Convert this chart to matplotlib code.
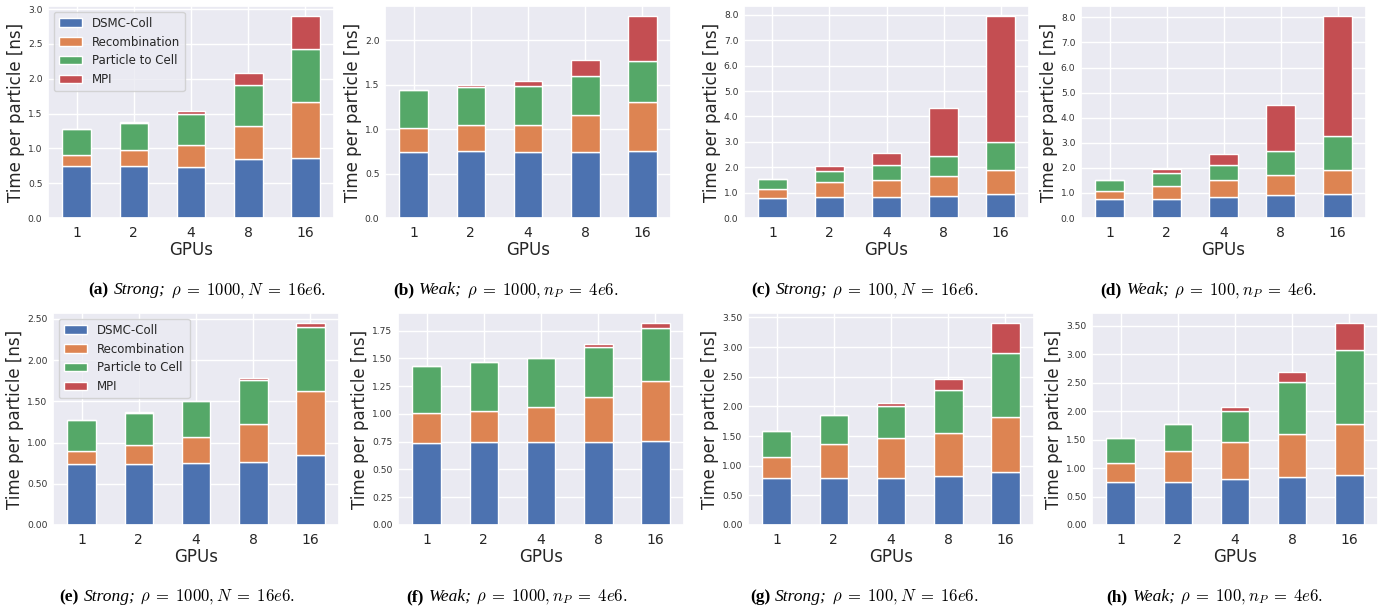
import matplotlib
matplotlib.use("Agg")
import matplotlib.pyplot as plt
import seaborn as sns
from matplotlib.ticker import MultipleLocator, FormatStrFormatter

sns.set_theme(style="darkgrid")
plt.rcParams["mathtext.fontset"] = "cm"
plt.rcParams["xtick.major.size"] = 0
plt.rcParams["ytick.major.size"] = 0

gpus = ["1", "2", "4", "8", "16"]
series_names = ["DSMC-Coll", "Recombination", "Particle to Cell", "MPI"]
colors = ["#4C72B0", "#DD8452", "#55A868", "#C44E52"]

# (a) Strong; rho=1000, N=16e6
dsmc_a = [0.74, 0.74, 0.73, 0.845, 0.86]
recomb_a = [0.17, 0.23, 0.32, 0.475, 0.80]
p2c_a = [0.37, 0.39, 0.44, 0.59, 0.77]
mpi_a = [0.0, 0.02, 0.05, 0.17, 0.47]
# (b) Weak; rho=1000, nP=4e6
dsmc_b = [0.74, 0.75, 0.74, 0.74, 0.75]
recomb_b = [0.27, 0.29, 0.31, 0.415, 0.55]
p2c_b = [0.43, 0.43, 0.435, 0.445, 0.465]
mpi_b = [0.0, 0.025, 0.055, 0.18, 0.505]
# (c) Strong; rho=100, N=16e6
dsmc_c = [0.77, 0.81, 0.81, 0.88, 0.94]
recomb_c = [0.36, 0.59, 0.68, 0.78, 0.96]
p2c_c = [0.40, 0.46, 0.60, 0.79, 1.10]
mpi_c = [0.0, 0.19, 0.45, 1.87, 4.95]
# (d) Weak; rho=100, nP=4e6
dsmc_d = [0.74, 0.76, 0.84, 0.93, 0.95]
recomb_d = [0.33, 0.53, 0.66, 0.78, 0.95]
p2c_d = [0.46, 0.49, 0.60, 0.98, 1.35]
mpi_d = [0.0, 0.17, 0.46, 1.83, 4.80]
# (e) Strong; rho=1000, N=16e6
dsmc_e = [0.74, 0.74, 0.75, 0.76, 0.845]
recomb_e = [0.16, 0.225, 0.315, 0.46, 0.78]
p2c_e = [0.375, 0.39, 0.44, 0.535, 0.775]
mpi_e = [0.0, 0.012, 0.0, 0.028, 0.048]
# (f) Weak; rho=1000, nP=4e6
dsmc_f = [0.74, 0.745, 0.75, 0.75, 0.76]
recomb_f = [0.265, 0.285, 0.315, 0.405, 0.54]
p2c_f = [0.43, 0.435, 0.44, 0.445, 0.47]
mpi_f = [0.0, 0.0, 0.0, 0.03, 0.048]
# (g) Strong; rho=100, N=16e6
dsmc_g = [0.79, 0.79, 0.80, 0.82, 0.90]
recomb_g = [0.35, 0.58, 0.66, 0.735, 0.925]
p2c_g = [0.44, 0.485, 0.55, 0.715, 1.08]
mpi_g = [0.01, 0.0, 0.04, 0.185, 0.50]
# (h) Weak; rho=100, nP=4e6
dsmc_h = [0.75, 0.76, 0.80, 0.84, 0.88]
recomb_h = [0.335, 0.54, 0.66, 0.76, 0.90]
p2c_h = [0.445, 0.47, 0.545, 0.91, 1.285]
mpi_h = [0.0, 0.0, 0.065, 0.185, 0.48]

cap_tags = ["(a)", "(b)", "(c)", "(d)", "(e)", "(f)", "(g)", "(h)"]
cap_kinds = ["Strong;", "Weak;", "Strong;", "Weak;",
             "Strong;", "Weak;", "Strong;", "Weak;"]
cap_maths = [
    r"$\rho\;=\;1000,N\;=\;16e6.$",
    r"$\rho\;=\;1000,n_P\;=\;4e6.$",
    r"$\rho\;=\;100,N\;=\;16e6.$",
    r"$\rho\;=\;100,n_P\;=\;4e6.$",
    r"$\rho\;=\;1000,N\;=\;16e6.$",
    r"$\rho\;=\;1000,n_P\;=\;4e6.$",
    r"$\rho\;=\;100,N\;=\;16e6.$",
    r"$\rho\;=\;100,n_P\;=\;4e6.$",
]

panels = [
    (dsmc_a, recomb_a, p2c_a, mpi_a),
    (dsmc_b, recomb_b, p2c_b, mpi_b),
    (dsmc_c, recomb_c, p2c_c, mpi_c),
    (dsmc_d, recomb_d, p2c_d, mpi_d),
    (dsmc_e, recomb_e, p2c_e, mpi_e),
    (dsmc_f, recomb_f, p2c_f, mpi_f),
    (dsmc_g, recomb_g, p2c_g, mpi_g),
    (dsmc_h, recomb_h, p2c_h, mpi_h),
]

# layout (pixels)
W, H = 1392, 612
cols = [(48, 334), (385, 671), (744, 1029), (1081, 1366),
        (53, 339), (398, 684), (748, 1034), (1092, 1378)]
rows = [(6, 218), (313, 525)]
cap_x = [207, 506, 865, 1209, 177, 517, 864, 1215]
cap_base = [294, 601]
fmts = ["%.1f", "%.1f", "%.1f", "%.1f", "%.2f", "%.2f", "%.2f", "%.2f"]
steps = [0.5, 0.5, 1.0, 1.0, 0.5, 0.25, 0.5, 0.5]

fig = plt.figure(figsize=(W / 100, H / 100), dpi=100)

cap_texts = []
for i, data in enumerate(panels):
    l, r = cols[i]
    t, b = rows[i // 4]
    ax = fig.add_axes([l / W, 1 - b / H, (r - l) / W, (b - t) / H])
    x = list(range(len(gpus)))
    bottom = [0.0] * len(gpus)
    for name, vals, c in zip(series_names, data, colors):
        ax.bar(x, vals, width=0.5, bottom=bottom, color=c, edgecolor="white",
               linewidth=1.0, label=name)
        bottom = [bb + v for bb, v in zip(bottom, vals)]
    ax.set_xlim(-0.5, len(gpus) - 0.5)
    ax.set_xticks(x)
    ax.set_xticklabels(gpus)
    ax.yaxis.set_major_locator(MultipleLocator(steps[i]))
    ax.yaxis.set_major_formatter(FormatStrFormatter(fmts[i]))
    ax.tick_params(axis="y", labelsize=6.6, pad=4, colors="#333333")
    ax.tick_params(axis="x", labelsize=10, pad=5.5, colors="#262626")
    ax.set_xlabel("GPUs", fontsize=12, labelpad=1)
    ax.set_ylabel("Time per particle [ns]", fontsize=12, labelpad=2)
    if i in (0, 4):
        ax.legend(loc="upper left", fontsize=8.5, frameon=True)
    ty = 1 - cap_base[i // 4] / H
    t1 = fig.text(0, ty, cap_tags[i], fontsize=12.5, family="Liberation Serif",
                  weight="bold", va="baseline", color="black")
    t2 = fig.text(0, ty, cap_kinds[i], fontsize=12.5, family="Liberation Serif",
                  style="italic", va="baseline", color="black")
    t3 = fig.text(0, ty, cap_maths[i], fontsize=12, va="baseline", color="black")
    cap_texts.append((cap_x[i], t1, t2, t3))

renderer = fig.canvas.get_renderer()
gap = 5
for cx, t1, t2, t3 in cap_texts:
    w1 = t1.get_window_extent(renderer).width
    w2 = t2.get_window_extent(renderer).width
    w3 = t3.get_window_extent(renderer).width
    total = w1 + w2 + w3 + 2 * gap
    x0 = cx - total / 2
    t1.set_x(x0 / W)
    t2.set_x((x0 + w1 + gap) / W)
    t3.set_x((x0 + w1 + w2 + 2 * gap) / W)

fig.savefig("out.png", dpi=100)
